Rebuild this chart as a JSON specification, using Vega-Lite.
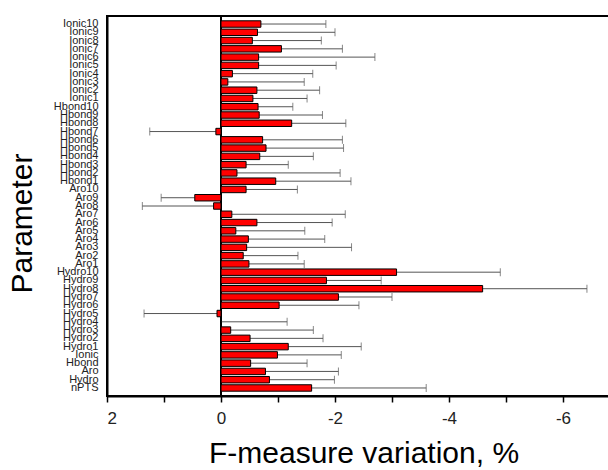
{
  "$schema": "https://vega.github.io/schema/vega-lite/v6.json",
  "width": 513,
  "height": 380,
  "autosize": "none",
  "padding": {"left": 107, "top": 16, "right": 0, "bottom": 74},
  "background": "white",
  "config": {
    "font": "Liberation Sans",
    "view": {"stroke": "black", "strokeWidth": 2},
    "axis": {"grid": false, "domainColor": "black", "domainWidth": 2, "tickColor": "black"}
  },
  "data": {
    "values": [
      {"param": "Ionic10", "value": -0.70, "err": -1.84},
      {"param": "Ionic9", "value": -0.64, "err": -2.00},
      {"param": "Ionic8", "value": -0.55, "err": -1.76},
      {"param": "Ionic7", "value": -1.06, "err": -2.13},
      {"param": "Ionic6", "value": -0.66, "err": -2.70},
      {"param": "Ionic5", "value": -0.66, "err": -2.02},
      {"param": "Ionic4", "value": -0.20, "err": -1.61},
      {"param": "Ionic3", "value": -0.12, "err": -1.46},
      {"param": "Ionic2", "value": -0.63, "err": -1.73},
      {"param": "Ionic1", "value": -0.56, "err": -1.51},
      {"param": "Hbond10", "value": -0.65, "err": -1.26},
      {"param": "Hbond9", "value": -0.67, "err": -1.78},
      {"param": "Hbond8", "value": -1.24, "err": -2.19},
      {"param": "Hbond7", "value": 0.09, "err": 1.25},
      {"param": "Hbond6", "value": -0.73, "err": -2.13},
      {"param": "Hbond5", "value": -0.79, "err": -2.15},
      {"param": "Hbond4", "value": -0.68, "err": -1.62},
      {"param": "Hbond3", "value": -0.44, "err": -1.18},
      {"param": "Hbond2", "value": -0.28, "err": -2.09},
      {"param": "Hbond1", "value": -0.96, "err": -2.28},
      {"param": "Aro10", "value": -0.44, "err": -1.34},
      {"param": "Aro9", "value": 0.46, "err": 1.05},
      {"param": "Aro8", "value": 0.13, "err": 1.38},
      {"param": "Aro7", "value": -0.19, "err": -2.18},
      {"param": "Aro6", "value": -0.63, "err": -1.95},
      {"param": "Aro5", "value": -0.26, "err": -1.47},
      {"param": "Aro4", "value": -0.48, "err": -1.82},
      {"param": "Aro3", "value": -0.45, "err": -2.29},
      {"param": "Aro2", "value": -0.39, "err": -1.35},
      {"param": "Aro1", "value": -0.49, "err": -1.46},
      {"param": "Hydro10", "value": -3.08, "err": -4.90},
      {"param": "Hydro9", "value": -1.85, "err": -2.81},
      {"param": "Hydro8", "value": -4.59, "err": -6.42},
      {"param": "Hydro7", "value": -2.06, "err": -3.00},
      {"param": "Hydro6", "value": -1.02, "err": -2.42},
      {"param": "Hydro5", "value": 0.07, "err": 1.35},
      {"param": "Hydro4", "value": 0, "err": -1.16},
      {"param": "Hydro3", "value": -0.17, "err": -1.62},
      {"param": "Hydro2", "value": -0.51, "err": -1.79},
      {"param": "Hydro1", "value": -1.18, "err": -2.46},
      {"param": "Ionic", "value": -0.99, "err": -2.11},
      {"param": "Hbond", "value": -0.52, "err": -1.51},
      {"param": "Aro", "value": -0.78, "err": -2.06},
      {"param": "Hydro", "value": -0.85, "err": -1.99},
      {"param": "nPTS", "value": -1.59, "err": -3.60}
    ]
  },
  "encoding": {
    "y": {
      "field": "param",
      "type": "nominal",
      "sort": null,
      "scale": {"paddingInner": 0.22, "paddingOuter": 0.58},
      "axis": {
        "title": "Parameter",
        "titleFontSize": 30,
        "titleFontWeight": "normal",
        "titleColor": "black",
        "titleAngle": 270,
        "titleBaseline": "middle",
        "titleX": -85,
        "titleY": 207,
        "labelFontSize": 11,
        "labelColor": "#222",
        "labelPadding": 9,
        "ticks": false,
        "labelOverlap": false,
        "labelBound": false
      }
    }
  },
  "layer": [
    {
      "mark": {"type": "rule", "color": "black", "strokeWidth": 1.5},
      "encoding": {"x": {"datum": 0, "type": "quantitative"}, "y": null}
    },
    {
      "mark": {"type": "rule", "color": "#555", "strokeWidth": 1},
      "encoding": {
        "x": {"field": "value", "type": "quantitative"},
        "x2": {"field": "err"}
      }
    },
    {
      "mark": {"type": "tick", "color": "#555", "thickness": 1, "size": 8, "orient": "vertical"},
      "encoding": {
        "x": {"field": "err", "type": "quantitative"}
      }
    },
    {
      "mark": {"type": "bar", "color": "#ff0000", "stroke": "black", "strokeWidth": 1},
      "encoding": {
        "x": {
          "field": "value",
          "type": "quantitative",
          "scale": {"domain": [2, -7], "nice": false, "zero": false},
          "axis": {
            "title": "F-measure variation, %",
            "titleFontSize": 30,
            "titleFontWeight": "normal",
            "titleColor": "black",
            "titleBaseline": "alphabetic",
            "titleY": 66,
            "values": [2, 1, 0, -1, -2, -3, -4, -5, -6],
            "labelExpr": "datum.value % 2 == 0 ? toString(datum.value) : ''",
            "labelFontSize": 17,
            "labelColor": "#222",
            "labelPadding": 8,
            "tickSize": 6,
            "tickWidth": 1.5
          }
        }
      }
    }
  ]
}
